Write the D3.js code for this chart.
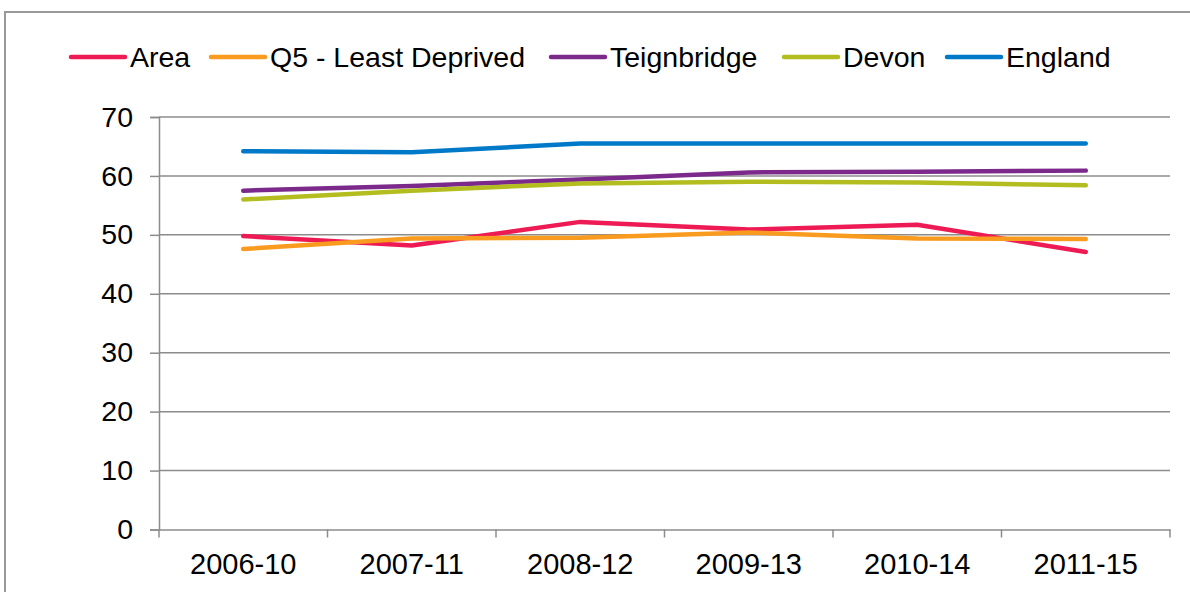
<!DOCTYPE html>
<html><head><meta charset="utf-8">
<script src="https://cdn.jsdelivr.net/npm/d3@7"></script>
<style>body{margin:0;background:#fff;}svg{display:block;font-family:"Liberation Sans",Arial,sans-serif;}</style>
</head><body>
<svg id="c" width="1190" height="592"></svg>
<script>
const categories = ["2006-10","2007-11","2008-12","2009-13","2010-14","2011-15"];
const seriesNames = ["Area","Q5 - Least Deprived","Teignbridge","Devon","England"];
const seriesColors = ["#EE1A53","#F99B1E","#7B2A8C","#B3BD20","#0079C8"];
const areaValues = [49.8,48.2,52.2,50.9,51.7,47.1];
const q5Values = [47.6,49.4,49.5,50.4,49.4,49.3];
const teignbridgeValues = [57.5,58.3,59.4,60.6,60.7,60.9];
const devonValues = [56.0,57.5,58.7,59.0,58.9,58.4];
const englandValues = [64.2,64.0,65.5,65.5,65.5,65.5];
const yTicks = [0,10,20,30,40,50,60,70];

const seriesValues = [areaValues,q5Values,teignbridgeValues,devonValues,englandValues];
const svg = d3.select("#c");
const L=159, R=1170, T=117, B=529.5;
const x = d3.scaleBand().domain(categories).range([L,R]);
const y = d3.scaleLinear().domain([0,70]).range([B,T]);
const grid="#8c8c8c";
const FF="Liberation Sans, Arial, sans-serif";

// outer border
svg.append("rect").attr("x",5).attr("y",12).attr("width",1200).attr("height",600)
  .attr("fill","none").attr("stroke","#999").attr("stroke-width",2);

// gridlines
svg.append("g").selectAll("line").data(yTicks.filter(d=>d>0)).join("line")
  .attr("x1",L).attr("x2",R).attr("y1",d=>y(d)).attr("y2",d=>y(d))
  .attr("stroke",grid).attr("stroke-width",1.5);

// y axis
const ya = svg.append("g").attr("transform",`translate(${L},0)`)
  .call(d3.axisLeft(y).tickValues(yTicks).tickSize(9).tickPadding(17).tickFormat(d3.format("d")));
ya.select(".domain").attr("stroke",grid).attr("stroke-width",1.5);
ya.selectAll(".tick line").attr("stroke",grid).attr("stroke-width",1.5);
ya.selectAll("text").attr("font-size",28.5).attr("fill","#000").attr("font-family",FF);

// x axis
const xa = svg.append("g").attr("transform",`translate(0,${B})`)
  .call(d3.axisBottom(x).tickSize(0));
xa.select(".domain").attr("stroke",grid).attr("stroke-width",1.5);
xa.selectAll("text").attr("font-size",29).attr("fill","#000").attr("font-family",FF)
  .attr("y",44.5).attr("dy",0);
// boundary ticks
const bounds = categories.map(c=>x(c)).concat([R]);
svg.append("g").selectAll("line").data(bounds).join("line")
  .attr("x1",d=>d).attr("x2",d=>d).attr("y1",B).attr("y2",B+8)
  .attr("stroke",grid).attr("stroke-width",1.5);

// lines
const line = d3.line().x((d,i)=>x(categories[i])+x.bandwidth()/2).y(d=>y(d));
svg.append("g").selectAll("path").data(seriesValues).join("path")
  .attr("d",d=>line(d)).attr("fill","none")
  .attr("stroke",(d,i)=>seriesColors[i]).attr("stroke-width",4.5)
  .attr("stroke-linecap","round").attr("stroke-linejoin","round");

// legend
const legX = [71,211,551,784,947];
const lg = svg.append("g");
seriesNames.forEach((n,i)=>{
  lg.append("line").attr("x1",legX[i]).attr("x2",legX[i]+54).attr("y1",57).attr("y2",57)
    .attr("stroke",seriesColors[i]).attr("stroke-width",4.5).attr("stroke-linecap","round");
  lg.append("text").attr("x",legX[i]+59).attr("y",66.5).attr("font-size",28.5).attr("fill","#000")
    .attr("font-family",FF).text(n);
});
</script>
</body></html>
